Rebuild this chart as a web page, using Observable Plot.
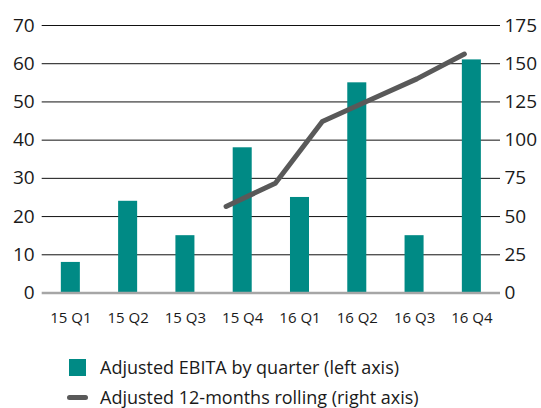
<!DOCTYPE html>
<html>
<head>
<meta charset="utf-8">
<script src="https://cdn.jsdelivr.net/npm/d3@7"></script>
<script src="https://cdn.jsdelivr.net/npm/@observablehq/plot@0.6"></script>
<style>
  body { margin: 0; background: #fff; font-family: "Open Sans", sans-serif; color: #1a1a1a; }
  #chart svg { display: block; }
  .legend { margin-top: 18px; }
  .row { display: flex; align-items: center; height: 30px; font-size: 18px; }
  .sw { position: relative; width: 34px; margin-left: 66px; height: 30px; }
  .sq { position: absolute; left: 3px; top: 6.5px; width: 17px; height: 17px; background: #008a85; }
  .ln { position: absolute; left: 1px; top: 12.5px; width: 21px; height: 5px; border-radius: 2.5px; background: #595959; }
</style>
</head>
<body>
<div id="chart"></div>
<div class="legend">
  <div class="row"><div class="sw"><div class="sq"></div></div><span>Adjusted EBITA by quarter (left axis)</span></div>
  <div class="row"><div class="sw"><div class="ln"></div></div><span>Adjusted 12-months rolling (right axis)</span></div>
</div>
<script>
// Quarterly adjusted EBITA (left axis)
const quarters = ["15 Q1", "15 Q2", "15 Q3", "15 Q4", "16 Q1", "16 Q2", "16 Q3", "16 Q4"];
const ebita = [8, 24, 15, 38, 25, 55, 15, 61];

// 12-months rolling EBITA (right axis); position measured in quarters from the start of 15 Q1
const rollingAt = [3.21, 4.07, 4.89, 5.70, 6.54, 7.37];
const rolling = [56.6, 71.8, 112.2, 125.9, 140.1, 156.3];

// Axis ticks
const leftTicks = [0, 10, 20, 30, 40, 50, 60, 70];
const leftMax = 70;
const rightMax = 175;
const toLeft = v => v * leftMax / rightMax;

const barHalf = 0.166;
const bars = quarters.map((q, i) => ({q, i, v: ebita[i]}));
const line = rolling.map((v, i) => ({x: rollingAt[i], v: toLeft(v)}));

const chart = Plot.plot({
  width: 541,
  height: 334,
  marginTop: 25,
  marginBottom: 41.5,
  marginLeft: 41.7,
  marginRight: 41,
  style: {fontFamily: "Open Sans, sans-serif", color: "#1a1a1a", background: "#fff"},
  x: {domain: [0, quarters.length]},
  y: {domain: [0, leftMax]},
  marks: [
    Plot.ruleY(leftTicks.filter(d => d > 0), {stroke: "#111", strokeWidth: 1}),
    Plot.rectY(bars, {x1: d => d.i + 0.5 - barHalf, x2: d => d.i + 0.5 + barHalf, y1: 0, y2: "v", fill: "#008a85"}),
    Plot.ruleY([0], {stroke: "#a6a6a6", strokeWidth: 2.5}),
    Plot.line(line, {x: "x", y: "v", stroke: "#595959", strokeWidth: 5, strokeLinecap: "round", strokeLinejoin: "round"}),
    Plot.axisY({anchor: "left", ticks: leftTicks, tickSize: 0, tickPadding: 7.5, fontSize: 19, label: null}),
    Plot.axisY({anchor: "right", ticks: leftTicks, tickFormat: d => String(Math.round(d * rightMax / leftMax)), tickSize: 0, tickPadding: 4, fontSize: 19, label: null}),
    Plot.axisX({ticks: quarters.map((_, i) => i + 0.5), tickFormat: d => quarters[Math.floor(d)], tickSize: 0, tickPadding: 19, fontSize: 15, label: null})
  ]
});
document.getElementById("chart").appendChild(chart);
</script>
</body>
</html>
